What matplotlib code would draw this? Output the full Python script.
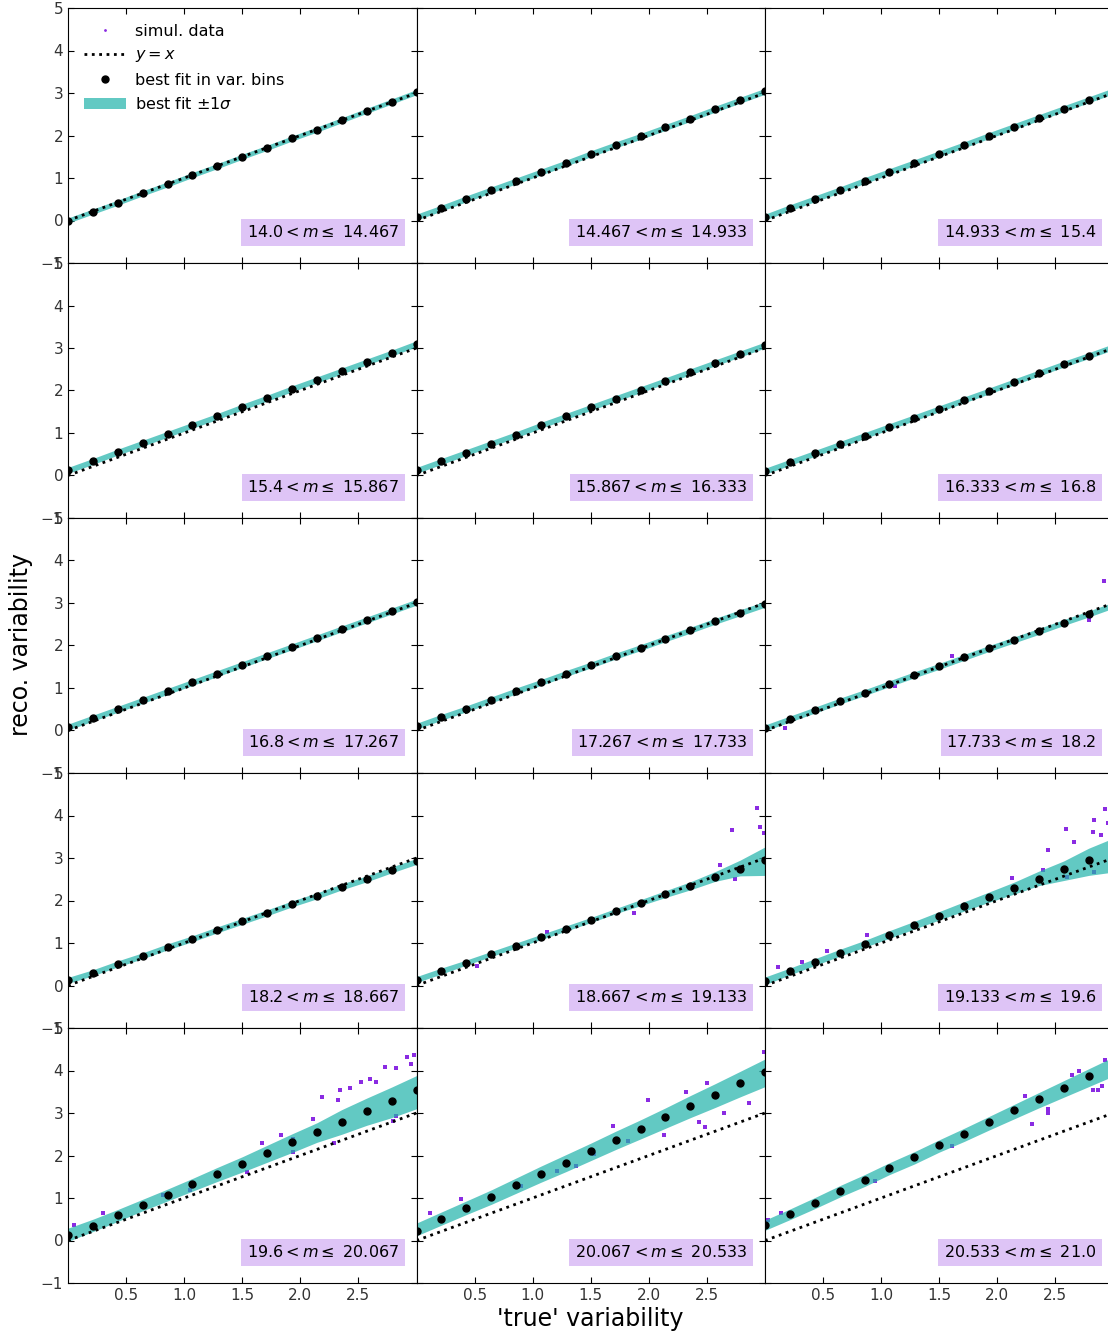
"""
Reco vs true variability in magnitude bins - 5x3 grid of panels.
"""
import matplotlib
matplotlib.use("Agg")
import matplotlib.pyplot as plt
import matplotlib.patches as mpatches

plt.rcParams.update({'font.size': 11, 'font.family': 'DejaVu Sans'})

# bin edges in magnitude (as printed)
mag_edges = ["14.0", "14.467", "14.933", "15.4", "15.867", "16.333", "16.8", "17.267",
             "17.733", "18.2", "18.667", "19.133", "19.6", "20.067", "20.533", "21.0"]

# centres of the variability bins (x of best fit dots)
x_bins = [0.0, 0.214, 0.429, 0.643, 0.857, 1.071, 1.286, 1.5, 1.714, 1.929,
          2.143, 2.357, 2.571, 2.786, 3.0]

# best fit in var. bins, one list per panel (row by row)
fit_11 = [0.00, 0.21, 0.42, 0.64, 0.85, 1.07, 1.28, 1.50, 1.71, 1.93, 2.14, 2.36, 2.58, 2.80, 3.02]
fit_12 = [0.08, 0.29, 0.51, 0.72, 0.93, 1.14, 1.35, 1.57, 1.78, 1.98, 2.19, 2.40, 2.62, 2.83, 3.04]
fit_13 = [0.08, 0.30, 0.51, 0.72, 0.94, 1.15, 1.36, 1.57, 1.78, 2.00, 2.21, 2.42, 2.63, 2.84, 3.05]
fit_21 = [0.12, 0.33, 0.55, 0.76, 0.97, 1.18, 1.39, 1.61, 1.82, 2.04, 2.25, 2.46, 2.67, 2.88, 3.10]
fit_22 = [0.12, 0.33, 0.54, 0.75, 0.96, 1.18, 1.39, 1.60, 1.81, 2.02, 2.23, 2.44, 2.65, 2.86, 3.07]
fit_23 = [0.10, 0.31, 0.52, 0.73, 0.94, 1.15, 1.36, 1.57, 1.78, 1.99, 2.20, 2.41, 2.62, 2.82, 3.03]
fit_31 = [0.08, 0.29, 0.50, 0.71, 0.92, 1.13, 1.34, 1.55, 1.76, 1.97, 2.18, 2.39, 2.60, 2.81, 3.02]
fit_32 = [0.10, 0.31, 0.51, 0.72, 0.93, 1.13, 1.34, 1.54, 1.75, 1.95, 2.16, 2.36, 2.57, 2.77, 2.97]
fit_33 = [0.06, 0.27, 0.48, 0.69, 0.89, 1.10, 1.31, 1.51, 1.72, 1.93, 2.13, 2.33, 2.54, 2.74, 2.95]
fit_41 = [0.12, 0.30, 0.51, 0.70, 0.91, 1.10, 1.31, 1.51, 1.71, 1.92, 2.11, 2.32, 2.51, 2.72, 2.92]
fit_42 = [0.14, 0.34, 0.54, 0.74, 0.94, 1.14, 1.34, 1.54, 1.75, 1.95, 2.15, 2.34, 2.55, 2.75, 2.96]
fit_43 = [0.11, 0.33, 0.55, 0.77, 0.98, 1.20, 1.42, 1.64, 1.86, 2.08, 2.29, 2.51, 2.73, 2.95, 3.17]
fit_51 = [0.12, 0.35, 0.59, 0.84, 1.08, 1.32, 1.57, 1.81, 2.06, 2.31, 2.55, 2.80, 3.05, 3.29, 3.54]
fit_52 = [0.23, 0.50, 0.77, 1.03, 1.30, 1.57, 1.83, 2.10, 2.37, 2.63, 2.90, 3.17, 3.43, 3.70, 3.97]
fit_53 = [0.36, 0.62, 0.89, 1.17, 1.43, 1.71, 1.97, 2.25, 2.51, 2.79, 3.06, 3.33, 3.60, 3.87, 4.14]

# 1 sigma band: distance above / below the fit
sig_narrow = [0.07, 0.07, 0.07, 0.07, 0.07, 0.07, 0.07, 0.07, 0.07, 0.07, 0.07, 0.07, 0.07, 0.07, 0.07]
sig_11 = [0.06, 0.06, 0.06, 0.06, 0.06, 0.06, 0.06, 0.06, 0.06, 0.06, 0.06, 0.06, 0.06, 0.06, 0.06]
up_42 = [0.07, 0.07, 0.06, 0.06, 0.06, 0.06, 0.06, 0.06, 0.06, 0.07, 0.08, 0.10, 0.13, 0.20, 0.30]
dn_42 = [0.07, 0.07, 0.06, 0.06, 0.06, 0.06, 0.06, 0.06, 0.06, 0.07, 0.08, 0.09, 0.10, 0.17, 0.37]
up_43 = [0.09, 0.08, 0.08, 0.08, 0.08, 0.09, 0.09, 0.10, 0.11, 0.12, 0.14, 0.18, 0.20, 0.28, 0.30]
dn_43 = [0.09, 0.08, 0.08, 0.08, 0.08, 0.09, 0.09, 0.10, 0.11, 0.12, 0.14, 0.16, 0.26, 0.36, 0.50]
up_51 = [0.17, 0.15, 0.14, 0.13, 0.13, 0.14, 0.15, 0.16, 0.18, 0.20, 0.22, 0.28, 0.30, 0.32, 0.34]
dn_51 = [0.14, 0.14, 0.14, 0.14, 0.15, 0.16, 0.18, 0.20, 0.22, 0.24, 0.24, 0.30, 0.34, 0.40, 0.44]
up_52 = [0.18, 0.17, 0.16, 0.16, 0.17, 0.18, 0.19, 0.19, 0.20, 0.21, 0.22, 0.24, 0.26, 0.28, 0.30]
dn_52 = [0.12, 0.14, 0.16, 0.18, 0.19, 0.20, 0.21, 0.22, 0.23, 0.24, 0.26, 0.28, 0.30, 0.32, 0.35]
up_53 = [0.12, 0.12, 0.12, 0.12, 0.12, 0.12, 0.12, 0.12, 0.13, 0.13, 0.14, 0.15, 0.16, 0.17, 0.18]
dn_53 = [0.12, 0.13, 0.14, 0.15, 0.16, 0.16, 0.17, 0.17, 0.18, 0.19, 0.20, 0.21, 0.23, 0.25, 0.27]

# visible simulated points sticking out of the band
sim_x_33 = [2.92, 2.79, 1.61, 1.12, 0.17]
sim_y_33 = [3.51, 2.61, 1.75, 1.04, 0.06]
sim_x_42 = [2.93, 2.72, 2.96, 2.99, 2.61, 2.74, 1.87, 1.12, 0.52]
sim_y_42 = [4.18, 3.67, 3.73, 3.59, 2.84, 2.51, 1.71, 1.27, 0.45]
sim_x_43 = [2.93, 2.83, 2.59, 2.95, 2.82, 2.89, 2.66, 2.44, 2.13, 2.39, 2.83, 2.60, 0.88, 0.53, 0.32, 0.11]
sim_y_43 = [4.15, 3.90, 3.69, 3.82, 3.62, 3.54, 3.37, 3.18, 2.53, 2.71, 2.67, 2.55, 1.18, 0.82, 0.55, 0.43]
sim_x_51 = [2.98, 2.92, 2.73, 2.82, 2.60, 2.65, 2.52, 2.34, 2.19, 2.32, 2.11, 1.94, 1.83, 1.67,
            2.80, 2.82, 2.29, 1.94, 1.54, 1.05, 0.30, 0.05, 0.82, 2.43, 2.95]
sim_y_51 = [4.36, 4.31, 4.09, 4.06, 3.79, 3.73, 3.72, 3.55, 3.37, 3.30, 2.87, 2.40, 2.48, 2.29,
            2.82, 2.94, 2.29, 2.09, 1.62, 1.19, 0.64, 0.37, 1.07, 3.60, 4.16]
sim_x_52 = [2.99, 2.50, 2.32, 2.43, 2.48, 2.65, 2.86, 2.13, 1.37, 1.82, 1.53, 0.90, 0.38, 0.12,
            1.99, 2.36, 1.69, 1.21]
sim_y_52 = [4.44, 3.70, 3.50, 2.80, 2.68, 3.00, 3.23, 2.49, 1.75, 2.34, 2.03, 1.28, 0.97, 0.64,
            3.31, 3.20, 2.69, 1.64]
sim_x_53 = [2.30, 2.44, 2.44, 2.82, 2.87, 2.90, 2.70, 2.64, 2.24, 2.93, 1.61, 0.95, 0.14, 0.03]
sim_y_53 = [2.73, 3.00, 3.10, 3.53, 3.53, 3.63, 4.00, 3.90, 3.39, 4.25, 2.22, 1.39, 0.65, 0.49]

fits = [fit_11, fit_12, fit_13, fit_21, fit_22, fit_23, fit_31, fit_32, fit_33,
        fit_41, fit_42, fit_43, fit_51, fit_52, fit_53]
sig_up = [sig_11, sig_narrow, sig_narrow, sig_narrow, sig_narrow, sig_narrow,
          sig_narrow, sig_narrow, sig_narrow, sig_narrow, up_42, up_43, up_51, up_52, up_53]
sig_dn = [sig_11, sig_narrow, sig_narrow, sig_narrow, sig_narrow, sig_narrow,
          sig_narrow, sig_narrow, sig_narrow, sig_narrow, dn_42, dn_43, dn_51, dn_52, dn_53]
sims = {8: (sim_x_33, sim_y_33), 10: (sim_x_42, sim_y_42), 11: (sim_x_43, sim_y_43),
        12: (sim_x_51, sim_y_51), 13: (sim_x_52, sim_y_52), 14: (sim_x_53, sim_y_53)}

band_color = 'lightseagreen'
pt_color = 'blueviolet'

fig, axes = plt.subplots(5, 3, figsize=(11.08, 13.35), dpi=100, sharex=True, sharey=True)
fig.subplots_adjust(left=68 / 1108, right=1113.5 / 1108, top=1 - 8 / 1335,
                    bottom=1 - 1283 / 1335, wspace=0, hspace=0)

for i, ax in enumerate(axes.flat):
    fit = fits[i]
    lo = [f - d for f, d in zip(fit, sig_dn[i])]
    hi = [f + u for f, u in zip(fit, sig_up[i])]
    if i in sims:
        sx, sy = sims[i]
        ax.plot(sx, sy, 's', color=pt_color, markersize=2.6, mew=0, zorder=1)
    ax.fill_between(x_bins, lo, hi, color=band_color, alpha=0.7, lw=0, zorder=2)
    ax.plot([0, 3], [0, 3], ':', color='k', lw=2, zorder=3)
    ax.plot(x_bins, fit, 'o', color='k', markersize=5, zorder=4)

    ax.text(0.95, 0.12, r"$%s < m \leq$ %s" % (mag_edges[i], mag_edges[i + 1]),
            transform=ax.transAxes, ha='right', va='center', fontsize=11.5,
            bbox=dict(facecolor=pt_color, alpha=0.28, edgecolor='none', pad=4))

    ax.set_xlim(0, 3.0)
    ax.set_ylim(-1, 5)
    ax.set_xticks([0.5, 1.0, 1.5, 2.0, 2.5])
    ax.set_yticks([-1, 0, 1, 2, 3, 4, 5])
    ax.tick_params(direction='in', top=True, right=True, length=4, labelsize=11,
                   labelcolor='#333333')

# legend in the first panel
h_sim, = axes[0, 0].plot([], [], '.', color=pt_color, markersize=2, label='simul. data')
h_id, = axes[0, 0].plot([], [], ':', color='k', lw=2, label='$y = x$')
h_fit, = axes[0, 0].plot([], [], 'o', color='k', markersize=5, label='best fit in var. bins')
h_band = mpatches.Patch(color=band_color, alpha=0.7, lw=0, label=r'best fit $\pm 1\sigma$')
axes[0, 0].legend(handles=[h_sim, h_id, h_fit, h_band], loc='upper left', frameon=False,
                  numpoints=1, fontsize=11.5, handlelength=2.6, borderaxespad=0.6,
                  labelspacing=0.52, handletextpad=0.6)

fig.text(0.019, 0.517, 'reco. variability', rotation=90, ha='center', va='center', fontsize=17)
fig.text(0.533, 0.012, "'true' variability", ha='center', va='center', fontsize=17)

fig.savefig('out.png', dpi=100)
